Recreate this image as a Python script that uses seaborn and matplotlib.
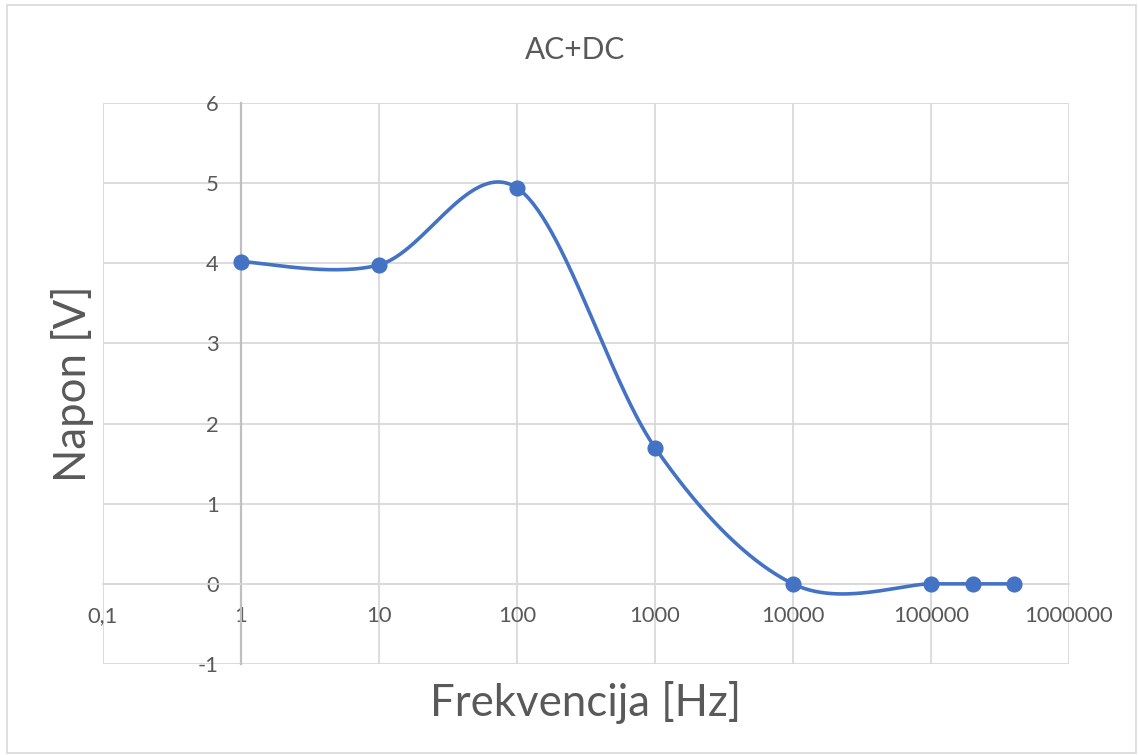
import numpy as np
import pandas as pd
import matplotlib
matplotlib.use("Agg")
import matplotlib.pyplot as plt
import seaborn as sns
from matplotlib.patches import Rectangle

# ---- data ----
freq_hz = [1, 10, 100, 1000, 10000, 100000, 200000, 400000]
voltage_v = [4.02, 3.98, 4.94, 1.70, 0.0, 0.0, 0.0, 0.0]
x_ticks = [0.1, 1, 10, 100, 1000, 10000, 100000, 1000000]
x_tick_labels = ["0,1", "1", "10", "100", "1000", "10000", "100000", "1000000"]
y_ticks = [-1, 0, 1, 2, 3, 4, 5, 6]
y_tick_labels = ["-1", "0", "1", "2", "3", "4", "5", "6"]
title = "AC+DC"
x_label = "Frekvencija [Hz]"
y_label = "Napon [V]"

BLUE = "#4472C4"
TXT = "#595959"
GRID = "#d9d9d9"

sns.set_theme(style="white")
plt.rcParams["font.family"] = ["Lato", "DejaVu Sans"]

# Excel-like smoothed line (Bezier, Catmull-Rom control points) in (log10 x, y)
def smooth_curve(xs, ys, n=60):
    P = np.column_stack([np.log10(xs), ys])
    m = len(P)
    out = []
    for i in range(m - 1):
        p0 = P[i - 1] if i > 0 else P[i]
        p1, p2 = P[i], P[i + 1]
        p3 = P[i + 2] if i + 2 < m else P[i + 1]
        c1 = p1 + (p2 - p0) / 6.0
        c2 = p2 - (p3 - p1) / 6.0
        t = np.linspace(0, 1, n)[:, None]
        seg = ((1 - t) ** 3) * p1 + 3 * ((1 - t) ** 2) * t * c1 + 3 * (1 - t) * t ** 2 * c2 + t ** 3 * p2
        out.append(seg if i == 0 else seg[1:])
    c = np.vstack(out)
    return 10 ** c[:, 0], c[:, 1]

cx, cy = smooth_curve(freq_hz, voltage_v)
curve = pd.DataFrame({"x": cx, "y": cy, "order": np.arange(len(cx))})
pts = pd.DataFrame({"x": freq_hz, "y": voltage_v})

fig = plt.figure(figsize=(11.38, 7.55), dpi=100)
ax = fig.add_axes([103 / 1138, 1 - 664 / 755, (1069 - 103) / 1138, (664 - 103) / 755])

ax.set_xscale("log")
ax.set_xlim(0.1, 1000000)
ax.set_ylim(-1, 6)

sns.lineplot(data=curve, x="x", y="y", sort=False, estimator=None, ax=ax,
             color=BLUE, linewidth=2.6, zorder=3)
sns.scatterplot(data=pts, x="x", y="y", ax=ax, color=BLUE, s=135,
                edgecolor=BLUE, linewidth=0, zorder=4)

ax.xaxis.set_major_locator(matplotlib.ticker.FixedLocator(x_ticks))
ax.xaxis.set_minor_locator(matplotlib.ticker.NullLocator())
ax.set_xticklabels(x_tick_labels)
ax.set_yticks(y_ticks)
ax.set_yticklabels(y_tick_labels)

ax.grid(True, color=GRID, linewidth=1.3)
ax.set_axisbelow(True)
for s in ["top", "right"]:
    ax.spines[s].set_visible(False)
ax.spines["left"].set_position(("data", 1))
ax.spines["left"].set_color("#bfbfbf")
ax.spines["left"].set_linewidth(1.6)
ax.spines["bottom"].set_position(("data", 0))
ax.spines["bottom"].set_color(GRID)
ax.spines["bottom"].set_linewidth(1.3)

ax.tick_params(axis="both", length=0, labelsize=15.8, labelcolor=TXT)
ax.tick_params(axis="x", pad=16)
ax.tick_params(axis="y", pad=16)

ax.set_xlabel("")
ax.set_ylabel("")
fig.text(586 / 1138, 1 - 702 / 755, x_label, ha="center", va="center",
         fontsize=31.5, color=TXT)
fig.text(72 / 1138, 1 - 384 / 755, y_label, ha="center", va="center",
         rotation=90, fontsize=31.5, color=TXT)
fig.text(575 / 1138, 1 - 50 / 755, title, ha="center", va="center",
         fontsize=21.5, color=TXT)

fig.patches.append(Rectangle((7 / 1138, 2 / 755), 1129 / 1138, 748 / 755,
                             transform=fig.transFigure, fill=False,
                             edgecolor=GRID, linewidth=1.2))

fig.savefig("out.png", dpi=100)
